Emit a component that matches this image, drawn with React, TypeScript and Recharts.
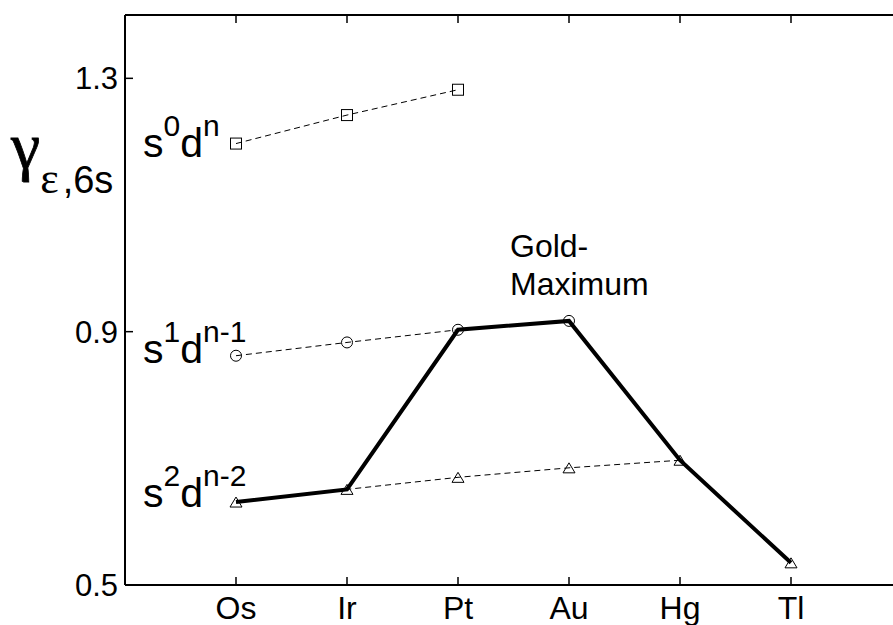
import { LineChart, Line, XAxis, YAxis } from "recharts";

const SANS = "Liberation Sans, Arial, Helvetica, sans-serif";
const SERIF = "Liberation Serif, Times New Roman, serif";

// elements along the 5d row, placed at x = 1..6
const elements = ["Os", "Ir", "Pt", "Au", "Hg", "Tl"];
// configurations
const s0dn = [1.197, 1.242, 1.282];
const s1dn1 = [0.862, 0.883, 0.903, 0.917];
const s2dn2 = [0.631, 0.651, 0.67, 0.685, 0.697];
// ground-state path (thick line)
const groundState = [0.631, 0.651, 0.903, 0.917, 0.697, 0.535];
const yTicks = [0.5, 0.9, 1.3];
const xTicks = elements.map((_, i) => i + 1);

const rows = elements.map((el, i) => ({
  x: i + 1,
  el,
  s0: s0dn[i],
  s1: s1dn1[i],
  s2: s2dn2[i],
  gs: groundState[i],
}));

const BottomTick = ({ x, y, payload }: any) => (
  <g>
    <line x1={x} x2={x} y1={y} y2={y - 8} stroke="#000" strokeWidth={1.5} />
    <text x={x} y={y + 34} textAnchor="middle" fontSize={32} fontFamily={SANS} fill="#000">
      {elements[payload.value - 1]}
    </text>
  </g>
);

const TopTick = ({ x, y }: any) => (
  <line x1={x} x2={x} y1={y} y2={y + 8} stroke="#000" strokeWidth={1.5} />
);

const LeftTick = ({ x, y, payload }: any) => (
  <g>
    <line x1={x} x2={x + 8} y1={y} y2={y} stroke="#000" strokeWidth={1.5} />
    <text x={x - 7} y={y + 11} textAnchor="end" fontSize={31} fontFamily={SANS} fill="#000">
      {payload.value.toFixed(1)}
    </text>
  </g>
);

const YLabel = () => (
  <text x={11} y={168} fill="#000">
    <tspan fontFamily={SERIF} fontSize={66} stroke="#000" strokeWidth={0.8}>γ</tspan>
    <tspan fontFamily={SERIF} fontSize={44} dy={25}>ε</tspan>
    <tspan fontFamily={SANS} fontSize={38} dx={4}>,6s</tspan>
  </text>
);

const SquareDot = (p: any) => {
  if (p.cx == null || p.cy == null) return <g key={p.index} />;
  return (
    <rect key={p.index} x={p.cx - 5.5} y={p.cy - 5.5} width={11} height={11} fill="none" stroke="#000" strokeWidth={1} />
  );
};

const CircleDot = (p: any) => {
  if (p.cx == null || p.cy == null) return <g key={p.index} />;
  return <circle key={p.index} cx={p.cx} cy={p.cy} r={5.5} fill="none" stroke="#000" strokeWidth={1} />;
};

const triangle = (cx: number, cy: number, key: any) => (
  <polygon
    key={key}
    points={`${cx},${cy - 5} ${cx - 6},${cy + 5} ${cx + 6},${cy + 5}`}
    fill="none"
    stroke="#000"
    strokeWidth={1}
  />
);

const TriangleDot = (p: any) => {
  if (p.cx == null || p.cy == null) return <g key={p.index} />;
  return triangle(p.cx, p.cy, p.index);
};

// thick path only marks its last point (Tl); the rest share markers with the dashed series
const LastTriangle = (p: any) => {
  if (p.cx == null || p.cy == null || p.index !== elements.length - 1) return <g key={p.index} />;
  return triangle(p.cx, p.cy, p.index);
};

// configuration name beside the first point of each dashed series
const configLabel = (sup1: string, sup2: string, dy: number) => (p: any) => {
  if (p.index !== 0 || p.x == null) return <g key={p.index} />;
  return (
    <text key={p.index} x={p.x - 93} y={p.y + dy} fontFamily={SANS} fontSize={41} fill="#000">
      <tspan>s</tspan>
      <tspan fontSize={30} dy={-21}>{sup1}</tspan>
      <tspan dy={21}>d</tspan>
      <tspan fontSize={30} dy={-21}>{sup2}</tspan>
    </text>
  );
};

const goldLabel = (p: any) => {
  if (elements[p.index] !== "Au" || p.x == null) return <g key={p.index} />;
  return (
    <text key={p.index} fontFamily={SANS} fontSize={32} fill="#000">
      <tspan x={p.x - 59} y={p.y - 64}>Gold-</tspan>
      <tspan x={p.x - 59} y={p.y - 26}>Maximum</tspan>
    </text>
  );
};

export default function App() {
  return (
    <div
      style={{
        position: "absolute",
        left: 0,
        top: 0,
        width: 893,
        height: 625,
        overflow: "hidden",
        background: "#fff",
      }}
    >
      <LineChart
        width={920}
        height={640}
        data={rows}
        margin={{ top: 14, right: 18, bottom: 54, left: 124 }}
      >
        <XAxis
          dataKey="x"
          type="number"
          domain={[0, 7]}
          ticks={xTicks}
          interval={0}
          height={1}
          tickSize={0}
          tickMargin={0}
          tickLine={false}
          axisLine={{ stroke: "#000", strokeWidth: 2 }}
          tick={<BottomTick />}
        />
        <XAxis
          xAxisId="top"
          orientation="top"
          dataKey="x"
          type="number"
          domain={[0, 7]}
          ticks={xTicks}
          interval={0}
          height={1}
          tickSize={0}
          tickMargin={0}
          tickLine={false}
          axisLine={{ stroke: "#000", strokeWidth: 2 }}
          tick={<TopTick />}
        />
        <YAxis
          type="number"
          domain={[0.5, 1.4]}
          ticks={yTicks}
          interval={0}
          width={1}
          tickSize={0}
          tickMargin={0}
          tickLine={false}
          axisLine={{ stroke: "#000", strokeWidth: 2 }}
          tick={<LeftTick />}
          label={<YLabel />}
        />
        <Line
          dataKey="s0"
          stroke="#000"
          strokeWidth={1}
          strokeDasharray="6 4"
          dot={SquareDot}
          activeDot={false}
          label={configLabel("0", "n", 13)}
          isAnimationActive={false}
        />
        <Line
          dataKey="s1"
          stroke="#000"
          strokeWidth={1}
          strokeDasharray="6 4"
          dot={CircleDot}
          activeDot={false}
          label={configLabel("1", "n-1", 7)}
          isAnimationActive={false}
        />
        <Line
          dataKey="s2"
          stroke="#000"
          strokeWidth={1}
          strokeDasharray="6 4"
          dot={TriangleDot}
          activeDot={false}
          label={configLabel("2", "n-2", 5)}
          isAnimationActive={false}
        />
        <Line
          dataKey="gs"
          stroke="#000"
          strokeWidth={4}
          strokeLinejoin="miter"
          dot={LastTriangle}
          activeDot={false}
          label={goldLabel}
          isAnimationActive={false}
        />
      </LineChart>
    </div>
  );
}
